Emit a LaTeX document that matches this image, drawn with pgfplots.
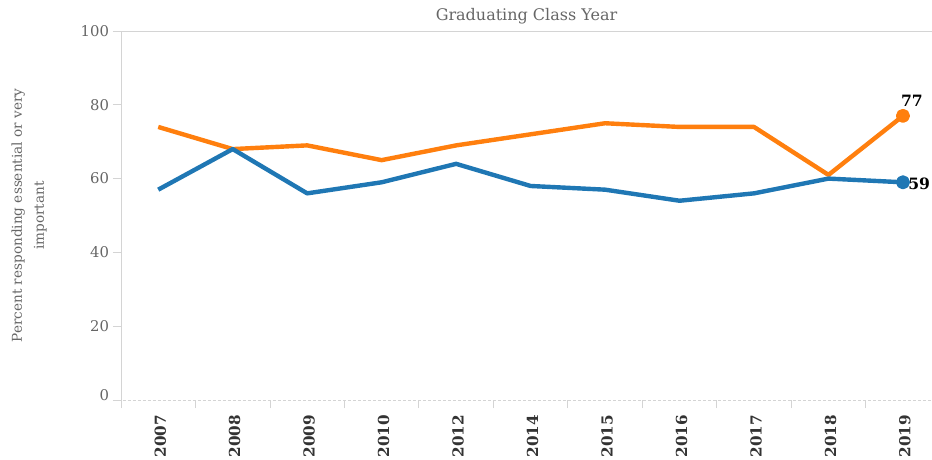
\documentclass[border=0pt]{standalone}
\usepackage{fontspec}
\setmainfont{DejaVu Serif}
\usepackage{pgfplots}
\pgfplotsset{compat=1.18}
\definecolor{cblue}{HTML}{1F77B4}
\definecolor{corange}{HTML}{FF7F0E}
\definecolor{axgray}{HTML}{D4D4D4}
\definecolor{txtgray}{HTML}{666666}
\definecolor{yeargray}{HTML}{333333}
\begin{document}
\begin{tikzpicture}
\begin{axis}[name=ax, scale only axis, width=405.5pt, height=184.5pt,
  xmin=-0.5, xmax=10.39, ymin=0, ymax=100,
  axis x line=bottom, axis y line=left,
  axis line style={-, axgray},
  x axis line style={dash pattern=on 1.5pt off 1pt, shorten <=-4pt},
  y axis line style={shorten <=-2.5pt},
  xtick={0,...,10},
  xticklabels={2007,2008,2009,2010,2012,2014,2015,2016,2017,2018,2019},
  minor xtick={-0.5,0.5,...,9.5},
  tick align=outside,
  major tick length=4pt, minor tick length=4pt,
  x tick style={draw=none},
  minor x tick style={draw=axgray, thin},
  y tick style={draw=axgray, thin},
  x tick label style={rotate=90, anchor=east, font=\fontsize{7.6}{8}\selectfont\bfseries, text=yeargray, yshift=-1pt},
  ytick={0,20,40,60,80,100},
  yticklabels={{\raisebox{5pt}{0}},20,40,60,80,{\raisebox{-5pt}{100}}},
  y tick label style={font=\fontsize{7.4}{8}\selectfont, text=txtgray, xshift=1.5pt},
  ylabel={Percent responding essential or very\\important},
  ylabel style={at={(axis description cs:-0.1134,0.5)}, anchor=center, align=center, rotate=0,
    font=\fontsize{6.8}{11}\selectfont, text=txtgray},
  title={Graduating Class Year},
  title style={at={(axis description cs:0.5,1)}, anchor=base, yshift=-1pt,
    font=\fontsize{8}{9}\selectfont, text=txtgray},
  clip=false,
]
\addplot[corange, line width=2.2pt, line join=round, mark=*, mark indices={11}, mark size=2.4pt, mark options={draw=none, fill=corange}]
  coordinates {(0,74) (1,68) (2,69) (3,65) (4,69) (5,72) (6,75) (7,74) (8,74) (9,61) (10,77)};
\addplot[cblue, line width=2.2pt, line join=round, mark=*, mark indices={11}, mark size=2.4pt, mark options={draw=none, fill=cblue}]
  coordinates {(0,57) (1,68) (2,56) (3,59) (4,64) (5,58) (6,57) (7,54) (8,56) (9,60) (10,59)};
\node[font=\fontsize{7.8}{9}\selectfont\bfseries, anchor=center, xshift=4.5pt, yshift=7.5pt] at (axis cs:10,77) {77};
\node[font=\fontsize{7.8}{9}\selectfont\bfseries, anchor=west, xshift=1.5pt, yshift=-1pt, inner sep=1pt] at (axis cs:10,59) {59};
\end{axis}
\draw[axgray] ([xshift=-4pt]ax.north west) -- (ax.north east);
\pgfresetboundingbox
\path ([xshift=-60.5pt,yshift=-30pt]ax.south west) rectangle ([yshift=15.5pt]ax.north east);
\end{tikzpicture}
\end{document}
